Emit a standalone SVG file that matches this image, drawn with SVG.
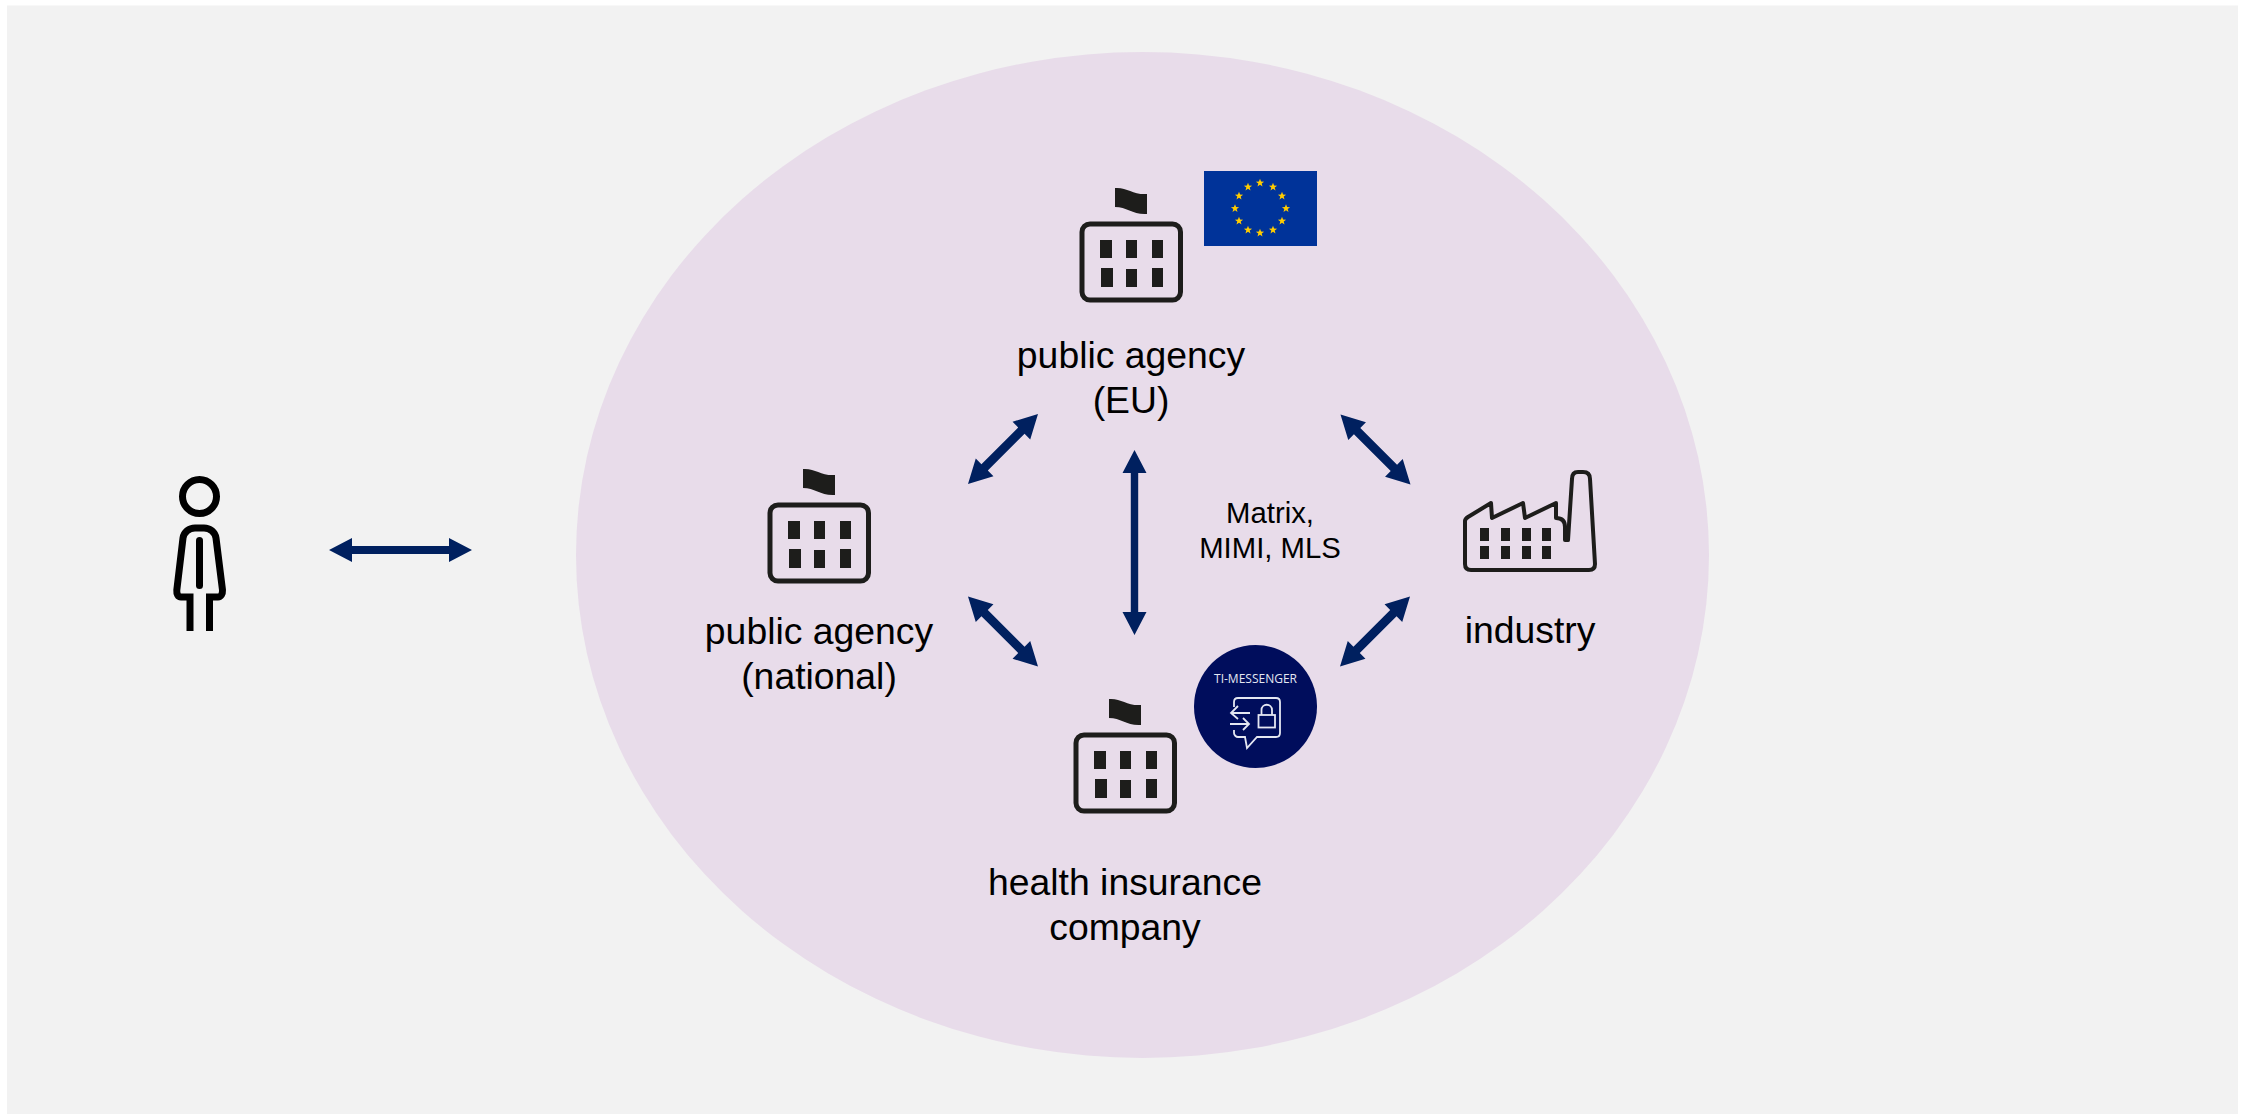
<svg xmlns="http://www.w3.org/2000/svg" width="2252" height="1114" viewBox="0 0 2252 1114">
<style>
.t{font-family:"Liberation Sans",Arial,sans-serif;font-size:37.33px;fill:#000;text-anchor:middle}
.s{font-size:29.3px}
.a{fill:#00205f}
.k{fill:none;stroke:#1d1d1b;stroke-width:5}
.w{fill:#1d1d1b}
.m{fill:none;stroke:#e4e7f2;stroke-width:1.8}
</style>
<defs>
<g id="bld">
<path class="w" d="M0 0C12-1 18 7 32 6V26C18 27 12 19 0 19Z" transform="translate(35 0)"/>
<rect class="k" x="2" y="36" width="98.500" height="76" rx="8"/>
<g class="w"><rect x="20" y="52" width="12" height="18"/><rect x="46" y="52" width="11" height="18"/><rect x="72" y="52" width="11" height="18"/><rect x="21" y="80" width="12" height="19"/><rect x="46" y="81" width="11" height="18"/><rect x="72" y="80" width="11" height="19"/></g>
</g>
<path id="arr" class="a" d="M-71.500 0L-48.500-12V-4H48.500V-12L71.500 0L48.500 12V4H-48.500V12Z"/>
<path id="arrv" class="a" d="M-92.500 0L-69.500-12V-3.700H69.500V-12L92.500 0L69.500 12V3.700H-69.500V12Z"/>
<path id="arrd" class="a" d="M-49.500 0L-26-12.500V-4.500H26V-12.500L49.500 0L26 12.500V4.500H-26V12.500Z"/>
<polygon id="star" points="0,-4.300 1.100,-1.400 4.100,-1.300 1.700,.6 2.500,3.500 0,1.800 -2.500,3.500 -1.700,.6 -4.100,-1.300 -1.100,-1.400" fill="#ffcc00"/>
</defs>
<rect width="2252" height="1114" fill="#fff"/>
<rect x="7" y="5.500" width="2231" height="1108.500" fill="#f2f2f2"/>
<ellipse cx="1142.5" cy="555" rx="566.5" ry="503" fill="#e8dcea"/>
<g id="connectors">
<use href="#arr" transform="translate(400.500 550)"/>
<use href="#arrv" transform="translate(1134.500 542.500) rotate(90)"/>
<use href="#arrd" transform="translate(1003 449) rotate(-45)"/>
<use href="#arrd" transform="translate(1375.500 449.500) rotate(45)"/>
<use href="#arrd" transform="translate(1003 631.500) rotate(45)"/>
<use href="#arrd" transform="translate(1375 631.500) rotate(-45)"/>
</g>
<g id="person" fill="none" stroke="#000" stroke-width="7">
<circle cx="199.500" cy="496.500" r="17"/>
<path d="M190 631V597H181C178 597 176.500 594 176.800 590L183 538C184 532 189 528 195 528H204C210 528 215 532 216 538L222.500 590C222.700 594 221 597 218 597H209.500V631"/>
<path d="M199.500 540.500V585.500" stroke-linecap="round"/>
</g>
<g id="agency-eu">
<use href="#bld" transform="translate(1080 188)"/>
<text class="t" x="1131" y="368">public agency</text><text class="t" x="1131" y="413">(EU)</text>
<rect x="1204" y="171" width="113" height="75" fill="#003399"/>
<g id="stars">
<use href="#star" x="1260" y="183"/><use href="#star" x="1273" y="187"/><use href="#star" x="1282" y="196"/><use href="#star" x="1286" y="208.500"/><use href="#star" x="1282" y="221"/><use href="#star" x="1273" y="230"/><use href="#star" x="1260" y="233"/><use href="#star" x="1248" y="230"/><use href="#star" x="1239" y="221"/><use href="#star" x="1235" y="208.500"/><use href="#star" x="1239" y="196"/><use href="#star" x="1248" y="187"/>
</g>
</g>
<g id="agency-national">
<use href="#bld" transform="translate(768 469)"/>
<text class="t" x="819" y="644">public agency</text><text class="t" x="819" y="689">(national)</text>
</g>
<g id="industry">
<path class="k" style="stroke-width:4" d="M1465 521V564C1465 568 1467 570 1471 570H1589C1593 570 1595 568 1595 564L1590 479C1590 474 1587 472 1583 472H1578C1574 472 1572 474 1572 479L1568 540H1565V527C1565 521 1562 518 1556 518V503L1525 518L1523 503L1492 518L1491 503L1468 517Q1465 519 1465 521Z" stroke-linejoin="round"/>
<g class="w"><rect x="1480" y="528" width="9" height="13"/><rect x="1501" y="528" width="9" height="13"/><rect x="1522" y="528" width="9" height="13"/><rect x="1542" y="528" width="9" height="13"/><rect x="1480" y="546" width="9" height="13"/><rect x="1501" y="546" width="9" height="13"/><rect x="1522" y="546" width="9" height="13"/><rect x="1542" y="546" width="9" height="13"/></g>
<text class="t" x="1530" y="643">industry</text>
</g>
<g id="health-insurance">
<use href="#bld" transform="translate(1074 699)"/>
<circle cx="1255.500" cy="706.500" r="61.500" fill="#000d5c"/>
<text x="1255.500" y="683" font-family="'Open Sans','Liberation Sans',sans-serif" font-size="12" fill="#e4e7f2" text-anchor="middle">TI-MESSENGER</text>
<path class="m" d="M1234 707V702C1234 699 1236 698 1238 698H1276C1279 698 1280 700 1280 702V733C1280 736 1278 737 1276 737H1257L1247 748L1245 737H1238C1236 737 1234 735 1234 733V730"/>
<path class="m" d="M1231 713H1250M1238 706L1231 713L1238 719M1230 724H1249M1243 718L1249 724L1243 730"/>
<rect class="m" x="1258.500" y="715" width="16.500" height="12.500"/><path class="m" d="M1261.500 715V710C1261.500 703 1272 703 1272 710V715"/>
<text class="t" x="1125" y="895">health insurance</text><text class="t" x="1125" y="940">company</text>
</g>
<g id="protocol-label"><text class="t s" x="1270" y="523">Matrix,</text><text class="t s" x="1270" y="558">MIMI, MLS</text></g>
</svg>
